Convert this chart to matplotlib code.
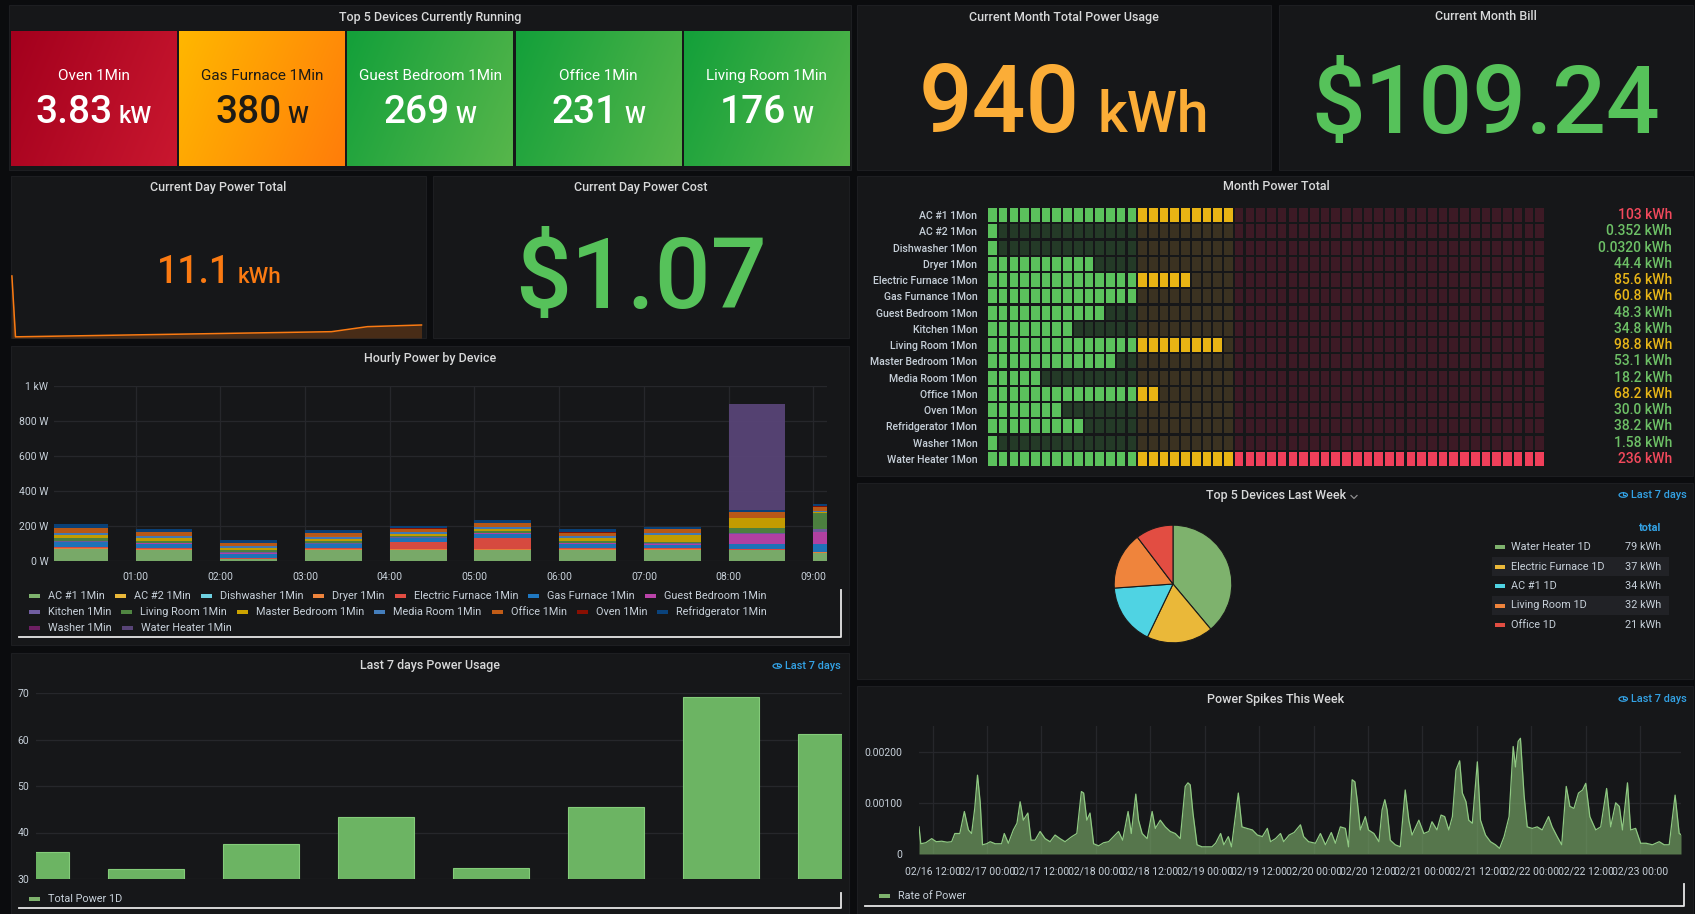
import matplotlib
matplotlib.use('Agg')
import matplotlib.pyplot as plt
from matplotlib.patches import Rectangle, Circle
from matplotlib.lines import Line2D
from matplotlib.colors import to_rgb
import matplotlib.transforms as mtransforms
import numpy as np
import math

plt.rcParams['font.family'] = ['Roboto', 'DejaVu Sans']

# ---------------- data ----------------
tile_names = ['Oven 1Min', 'Gas Furnace 1Min', 'Guest Bedroom 1Min', 'Office 1Min', 'Living Room 1Min']
tile_watts = [3830, 380, 269, 231, 176]

month_kwh = 940
month_bill = 109.24
day_kwh = 11.1
day_cost = 1.07

spark_hours = [0.0, 0.08, 7.1, 7.9, 9.1]
spark_kwh = [53.0, 1.0, 5.4, 9.7, 11.1]

hours = [0, 1, 2, 3, 4, 5, 6, 7, 8, 9]
devices = ['AC #1 1Min', 'AC #2 1Min', 'Dishwasher 1Min', 'Dryer 1Min', 'Electric Furnace 1Min',
           'Gas Furnace 1Min', 'Guest Bedroom 1Min', 'Kitchen 1Min', 'Living Room 1Min',
           'Master Bedroom 1Min', 'Media Room 1Min', 'Office 1Min', 'Oven 1Min',
           'Refridgerator 1Min', 'Washer 1Min', 'Water Heater 1Min']
ac1 = [67, 65, 10, 65, 65, 62, 65, 65, 62, 48]
ac2 = [0, 0, 0, 0, 0, 0, 0, 0, 0, 0]
dishwasher = [0, 0, 0, 0, 0, 0, 0, 0, 0, 0]
dryer = [6, 4, 3, 4, 4, 4, 4, 4, 3, 4]
electric_furnace = [6, 4, 4, 4, 38, 67, 4, 3, 3, 0]
gas_furnace = [28, 25, 25, 24, 22, 22, 25, 22, 28, 44]
guest_bedroom = [4, 3, 3, 3, 3, 3, 3, 3, 57, 67]
kitchen = [5, 4, 4, 4, 3, 3, 4, 4, 5, 19]
living_room = [13, 12, 12, 11, 10, 10, 12, 10, 28, 95]
master_bedroom = [17, 14, 12, 13, 12, 14, 13, 38, 57, 3]
media_room = [15, 12, 12, 12, 10, 10, 12, 10, 5, 3]
office = [25, 20, 18, 20, 18, 22, 20, 22, 30, 28]
oven = [2, 2, 2, 2, 2, 2, 2, 2, 2, 2]
refridgerator = [22, 16, 15, 13, 11, 13, 17, 13, 10, 15]
washer = [0, 0, 0, 0, 0, 0, 0, 0, 0, 0]
water_heater = [0, 0, 0, 0, 0, 0, 0, 0, 610, 0]
hourly_series = [ac1, ac2, dishwasher, dryer, electric_furnace, gas_furnace, guest_bedroom,
                 kitchen, living_room, master_bedroom, media_room, office, oven,
                 refridgerator, washer, water_heater]
hourly_yticks = [0, 200, 400, 600, 800, 1000]
hourly_ylabels = ['0 W', '200 W', '400 W', '600 W', '800 W', '1 kW']

week_days = [0, 1, 2, 3, 4, 5, 6, 7]
week_values = [35.7, 32.1, 37.5, 43.4, 32.4, 45.4, 69.1, 61.2]

month_devices = ['AC #1 1Mon', 'AC #2 1Mon', 'Dishwasher 1Mon', 'Dryer 1Mon', 'Electric Furnace 1Mon',
                 'Gas Furnance 1Mon', 'Guest Bedroom 1Mon', 'Kitchen 1Mon', 'Living Room 1Mon',
                 'Master Bedroom 1Mon', 'Media Room 1Mon', 'Office 1Mon', 'Oven 1Mon',
                 'Refridgerator 1Mon', 'Washer 1Mon', 'Water Heater 1Mon']
month_values = [103, 0.352, 0.0320, 44.4, 85.6, 60.8, 48.3, 34.8, 98.8, 53.1, 18.2, 68.2, 30.0, 38.2, 1.58, 236]
month_labels = ['103 kWh', '0.352 kWh', '0.0320 kWh', '44.4 kWh', '85.6 kWh', '60.8 kWh', '48.3 kWh',
                '34.8 kWh', '98.8 kWh', '53.1 kWh', '18.2 kWh', '68.2 kWh', '30.0 kWh', '38.2 kWh',
                '1.58 kWh', '236 kWh']
month_thresholds = [60, 100]

pie_labels = ['Water Heater 1D', 'Electric Furnace 1D', 'AC #1 1D', 'Living Room 1D', 'Office 1D']
pie_values = [79, 37, 34, 32, 21]

spike_hours = [-3.0, -2.6, -1.5, -0.2, 0.8, 2.0, 3.2, 4.2, 4.9, 6.0, 7.0, 7.9, 8.6, 9.3, 9.9, 10.5, 11.0,
               11.9, 12.7, 13.8, 15.2, 15.8, 16.7, 17.8, 18.6, 19.3, 20.0, 21.0, 21.7, 22.6, 23.7, 24.8,
               25.9, 27.0, 28.1, 29.2, 30.7, 31.8, 32.8, 33.3, 34.0, 34.7, 35.5, 36.6, 37.7, 38.8, 39.9,
               41.0, 41.9, 43.1, 43.8, 44.8, 45.4, 46.2, 47.3, 48.4, 49.1, 50.2, 51.3, 52.4, 53.5, 54.6,
               55.7, 56.3, 56.8, 57.4, 58.3, 59.4, 61.6, 62.4, 63.5, 64.2, 65.2, 65.9, 67.4, 68.2, 69.3,
               70.5, 71.6, 72.7, 73.8, 74.5, 75.6, 76.7, 77.4, 78.6, 79.7, 81.1, 81.8, 82.9, 84.4, 85.5,
               86.6, 87.9, 88.8, 89.9, 91.0, 91.7, 92.5, 93.1, 93.6, 94.3, 95.4, 96.1, 97.3, 98.4, 99.1,
               99.7, 100.2, 100.9, 102.0, 103.1, 104.2, 105.0, 105.7, 107.2, 108.3, 109.4, 110.1, 111.2,
               112.1, 112.9, 113.8, 114.6, 115.4, 116.2, 116.8, 117.6, 118.2, 119.0, 120.1, 120.8, 121.9,
               123.0, 124.1, 125.0, 126.0, 127.1, 128.0, 128.5, 129.1, 129.6, 130.4, 131.1, 132.2, 133.3,
               134.4, 135.8, 136.6, 137.7, 138.7, 139.7, 140.5, 141.4, 142.4, 143.3, 144.0, 144.9, 146.2,
               147.3, 148.6, 149.5, 150.6, 151.4, 152.1, 153.2, 153.9, 155.0, 156.1, 157.3, 158.7, 160.2,
               161.3, 162.4, 163.7, 164.6, 165.0]
spike_milli = [0.53, 0.20, 0.22, 0.30, 0.24, 0.25, 0.23, 0.24, 0.40, 0.40, 0.83, 0.47, 0.40, 0.90, 1.54, 1.00,
               0.18, 0.20, 0.24, 0.20, 0.20, 0.40, 0.21, 0.47, 0.60, 1.02, 0.66, 0.80, 0.27, 0.27, 0.44, 0.30,
               0.24, 0.37, 0.30, 0.24, 0.34, 0.40, 1.22, 1.19, 0.66, 0.80, 0.20, 0.16, 0.22, 0.24, 0.34,
               0.44, 0.27, 0.83, 0.40, 1.17, 0.66, 0.40, 0.30, 0.83, 0.50, 0.66, 0.53, 0.44, 0.40, 0.30,
               1.32, 1.39, 1.35, 0.80, 0.18, 0.14, 0.14, 0.21, 0.40, 0.18, 0.34, 0.14, 1.19, 0.53, 0.50,
               0.47, 0.37, 0.34, 0.50, 0.24, 0.30, 0.40, 0.24, 0.37, 0.42, 0.57, 0.34, 0.24, 0.21, 0.40,
               0.18, 0.42, 0.21, 0.53, 0.50, 0.14, 1.45, 1.41, 1.06, 0.47, 0.73, 0.47, 0.40, 0.24, 0.86,
               1.06, 0.86, 0.27, 0.18, 0.14, 1.25, 0.66, 0.37, 0.66, 0.40, 0.44, 0.63, 0.47,
               0.76, 0.73, 0.47, 0.73, 1.64, 1.82, 1.19, 1.02, 0.66, 0.60, 1.80, 0.66, 0.37,
               0.24, 0.18, 0.11, 0.34, 0.73, 2.10, 1.70, 2.20, 2.26, 1.15, 0.53, 0.50, 0.53,
               0.47, 0.73, 0.53, 0.34, 0.18, 1.32, 0.93, 0.89, 1.19, 1.25, 1.38, 0.73, 0.47,
               0.53, 1.28, 0.53, 1.00, 0.93, 0.47, 1.39, 0.47, 0.50, 0.21, 0.21, 0.18, 0.24,
               0.18, 0.18, 1.15, 0.40, 0.38]

# ---------------- style ----------------
W, H = 1695, 914
BG = '#0b0c0e'
PANEL = '#161719'
TITLE = '#d8d9da'
TICK = '#c7d0d9'
GRID = '#26272b'
LINK = '#33a2e5'
PALETTE = ['#7EB26D', '#EAB839', '#6ED0E0', '#EF843C', '#E24D42', '#1F78C1', '#BA43A9', '#705DA0',
           '#508642', '#CCA300', '#447EBC', '#C15C17', '#890F02', '#0A437C', '#6D1F62', '#584477']
BIGW = 'medium'

fig = plt.figure(figsize=(W / 100, H / 100), dpi=100, facecolor=BG)
R = fig.canvas.get_renderer()


def rect_fig(x0, y0, x1, y1, **kw):
    r = Rectangle((x0 / W, 1 - y1 / H), (x1 - x0) / W, (y1 - y0) / H, transform=fig.transFigure, **kw)
    fig.add_artist(r)
    return r


def axes_px(x0, y0, x1, y1, zorder=1):
    ax = fig.add_axes([x0 / W, 1 - y1 / H, (x1 - x0) / W, (y1 - y0) / H], zorder=zorder)
    ax.set_facecolor('none')
    return ax


def ftext(x, y, s, **kw):
    kw.setdefault('zorder', 6)
    return fig.text(x / W, 1 - y / H, s, **kw)


def fline(xs, ys, **kw):
    fig.add_artist(Line2D([x / W for x in xs], [1 - y / H for y in ys], transform=fig.transFigure,
                          zorder=6, **kw))


def title(cx, y, s):
    ftext(cx, y, s, color=TITLE, fontsize=9, fontweight='medium', ha='center', va='center')


def value_text(cx, base_y, num, unit, nsize, usize, color, gap):
    t1 = ftext(0, 0, num, fontsize=nsize, color=color, va='baseline', ha='left', fontweight=BIGW)
    t2 = ftext(0, 0, unit, fontsize=usize, color=color, va='baseline', ha='left', fontweight=BIGW)
    w1 = t1.get_window_extent(R).width
    w2 = t2.get_window_extent(R).width
    x0 = cx - (w1 + gap + w2) / 2
    t1.set_position((x0 / W, 1 - base_y / H))
    t2.set_position(((x0 + w1 + gap) / W, 1 - base_y / H))


def link_text(x_right, y, s):
    t = ftext(x_right, y, s, color=LINK, fontsize=7.8, fontweight='medium', ha='right', va='center')
    w = t.get_window_extent(R).width
    cx = x_right - w - 8
    fig.add_artist(Circle((cx / W, 1 - y / H), 4.2 / W, transform=fig.transFigure, fill=False,
                          edgecolor=LINK, lw=0.9, zorder=6))
    fline([cx, cx, cx + 2], [y - 2.5, y, y], color=LINK, lw=0.8)


def legend_item(x, y, name, color, fs=7.8):
    rect_fig(x, y - 2, x + 11, y + 2, facecolor=color, edgecolor='none', zorder=6)
    t = ftext(x + 19, y, name, color=TICK, fontsize=fs, ha='left', va='center')
    return x + 19 + t.get_window_extent(R).width + 10


def frame_line(x0, x1, y_bottom, y_top_right):
    fline([x0, x1, x1], [y_bottom, y_bottom, y_top_right], color='#e6e6e6', lw=1.3)


# ---------------- panels ----------------
panels = [(9, 5, 851, 170), (857, 5, 1271, 170), (1279, 5, 1693, 170), (11, 176, 426, 338),
          (433, 176, 849, 338), (11, 346, 849, 645), (11, 653, 849, 914), (857, 176, 1693, 476),
          (857, 483, 1693, 679), (857, 686, 1693, 914)]
for p in panels:
    rect_fig(*p, facecolor=PANEL, edgecolor='#1d1e21', lw=0.8, zorder=-5)

# ---------------- top 5 devices currently running ----------------
title(430, 17, 'Top 5 Devices Currently Running')


def tile_style(w):
    if w >= 1000:
        return ('#a3001d', '#c9172f'), '#ffffff'
    if w >= 300:
        return ('#ffb700', '#ff7d0a'), '#1d1b16'
    return ('#13a03a', '#57b64b'), '#ffffff'


n = len(tile_names)
tx0, tx1, tgap = 11, 849, 3
tw = (tx1 - tx0 - tgap * (n - 1)) / n
gx, gy = np.meshgrid(np.linspace(0, 1, 64), np.linspace(0, 1, 64))
tparam = np.clip(0.75 * gx + 0.25 * gy, 0, 1)
for i, (name, w) in enumerate(zip(tile_names, tile_watts)):
    x0 = tx0 + i * (tw + tgap)
    (c1, c2), tc = tile_style(w)
    a, b = np.array(to_rgb(c1)), np.array(to_rgb(c2))
    img = a * (1 - tparam)[..., None] + b * tparam[..., None]
    ax = axes_px(x0, 31, x0 + tw, 166, zorder=0)
    ax.imshow(img, extent=[0, 1, 0, 1], aspect='auto', interpolation='bilinear')
    ax.axis('off')
    cx = x0 + tw / 2
    ftext(cx, 76, name, color=tc, fontsize=11, ha='center', va='center')
    if w >= 1000:
        num, unit = f'{w / 1000:.2f}', 'kW'
    else:
        num, unit = f'{w:.0f}', 'W'
    value_text(cx, 123, num, unit, 28, 17, tc, 6)

# ---------------- month usage / bill ----------------
title(1064, 17, 'Current Month Total Power Usage')
value_text(1064, 132, f'{month_kwh}', 'kWh', 68, 41, '#FBAD37', 18)
title(1486, 17, 'Current Month Bill')
ftext(1486, 133, f'${month_bill:.2f}', color='#56C25A', fontsize=68, ha='center', va='baseline',
      fontweight=BIGW)

# ---------------- current day total ----------------
title(218, 187, 'Current Day Power Total')
axs = axes_px(11, 268, 426, 338, zorder=0)
axs.plot(spark_hours, spark_kwh, color='#FA7A12', lw=1.1)
axs.fill_between(spark_hours, spark_kwh, 0, color='#FA7A12', alpha=0.22, lw=0)
axs.set_xlim(-0.02, 9.2)
axs.set_ylim(0, 59.8)
axs.axis('off')
value_text(219, 283, f'{day_kwh}', 'kWh', 27, 16, '#FA7A12', 7)

title(641, 187, 'Current Day Power Cost')
ftext(641, 308, f'${day_cost:.2f}', color='#56C25A', fontsize=71, ha='center', va='baseline',
      fontweight=BIGW)

# ---------------- hourly power by device ----------------
title(430, 358, 'Hourly Power by Device')
axh = axes_px(54, 386, 827, 561)
bottom = np.zeros(len(hours))
for vals, c in zip(hourly_series, PALETTE):
    v = np.array(vals, dtype=float)
    axh.bar(hours, v, width=0.67, align='edge', bottom=bottom, color=c, alpha=0.95, lw=0, zorder=2)
    bottom += v
axh.set_xlim(0.038, 9.16)
axh.set_ylim(0, 1000)
axh.set_xticks(hours[1:])
axh.set_xticklabels([f'{h:02d}:00' for h in hours[1:]])
axh.set_yticks(hourly_yticks)
axh.set_yticklabels(hourly_ylabels)
axh.grid(color=GRID, lw=0.9, zorder=0)
axh.set_axisbelow(True)
for s in axh.spines.values():
    s.set_visible(False)
axh.tick_params(length=0, colors=TICK, labelsize=7.5)
axh.tick_params(axis='x', pad=8)
axh.tick_params(axis='y', pad=4)

legend_rows = [range(0, 7), range(7, 14), range(14, 16)]
for row, y in zip(legend_rows, [596, 612, 628]):
    x = 29
    for k in row:
        x = legend_item(x, y, devices[k], PALETTE[k])
frame_line(19, 841, 637, 590)

# ---------------- last 7 days ----------------
title(430, 665, 'Last 7 days Power Usage')
link_text(841, 666, 'Last 7 days')
axw = axes_px(36, 693, 842, 879)
axw.bar(week_days, week_values, width=0.66, align='edge', color='#6cb463', edgecolor='#84cc7a',
        lw=0.8, zorder=2)
axw.set_xlim(0.373, 7.382)
axw.set_ylim(30, 70)
axw.set_yticks([30, 40, 50, 60, 70])
axw.set_xticks([])
axw.grid(axis='y', color=GRID, lw=0.9, zorder=0)
axw.set_axisbelow(True)
for s in axw.spines.values():
    s.set_visible(False)
axw.tick_params(length=0, colors=TICK, labelsize=7.5, pad=5)
legend_item(29, 899, 'Total Power 1D', '#7EB26D')
frame_line(19, 841, 908, 893)

# ---------------- month power total (bar gauge) ----------------
title(1276, 187, 'Month Power Total')
NC = 52
axm = axes_px(987, 207, 1545, 467)
axm.set_xlim(0, NC)
axm.set_ylim(len(month_devices) - 0.5, -0.5)
vmax = max(month_values)
zone_on = ['#5BC15C', '#E8B414', '#F03F5A']
zone_off = ['#243a27', '#3b3221', '#3d1a25']
text_col = ['#6DC066', '#E8B617', '#F2495C']


def zone(v):
    z = 0
    for t in month_thresholds:
        if v >= t:
            z += 1
    return z


for r, v in enumerate(month_values):
    lit = math.ceil(v / vmax * NC)
    for i in range(NC):
        zc = zone(i * vmax / NC)
        col = zone_on[zc] if i < lit else zone_off[zc]
        axm.add_patch(Rectangle((i + 0.1, r - 0.43), 0.8, 0.86, facecolor=col, edgecolor='none'))
axm.set_yticks(range(len(month_devices)))
axm.set_yticklabels(month_devices, fontweight='medium')
axm.set_xticks([])
for s in axm.spines.values():
    s.set_visible(False)
axm.tick_params(length=0, colors=TICK, labelsize=7.6, pad=7)
trans = mtransforms.blended_transform_factory(axm.transAxes, axm.transData)
for r, (v, lab) in enumerate(zip(month_values, month_labels)):
    axm.text((1672 - 987) / (1545 - 987), r, lab, transform=trans, ha='right', va='center',
             fontsize=10, fontweight='medium', color=text_col[zone(v)])

# ---------------- top 5 devices last week (pie) ----------------
title(1276, 495, 'Top 5 Devices Last Week')
fline([1351, 1354, 1357], [495.5, 498.5, 495.5], color='#8e8e8e', lw=0.9)
link_text(1687, 495, 'Last 7 days')
axp = axes_px(1113, 524, 1233, 644)
pie_colors = ['#7EB26D', '#EAB839', '#4fd3e3', '#EF843C', '#E24D42']
axp.pie(pie_values, colors=pie_colors, startangle=90, counterclock=False, radius=1,
        wedgeprops=dict(edgecolor='#1a1a1a', linewidth=0.8))
axp.set_xlim(-1.02, 1.02)
axp.set_ylim(-1.02, 1.02)
ftext(1661, 528, 'total', color=LINK, fontsize=7.8, fontweight='bold', ha='right', va='center')
for k, (lab, v, c) in enumerate(zip(pie_labels, pie_values, pie_colors)):
    y = 547 + k * 19.5
    if k % 2 == 1:
        rect_fig(1492, y - 9.5, 1669, y + 9.5, facecolor='#212226', edgecolor='none', zorder=1)
    rect_fig(1495, y - 2, 1505, y + 2, facecolor=c, edgecolor='none', zorder=6)
    ftext(1511, y, lab, color=TICK, fontsize=7.8, ha='left', va='center')
    ftext(1661, y, f'{v} kWh', color=TICK, fontsize=7.8, ha='right', va='center')

# ---------------- power spikes ----------------
title(1276, 699, 'Power Spikes This Week')
link_text(1687, 699, 'Last 7 days')
axk = axes_px(919, 726, 1681, 854)
sv = np.array(spike_milli) / 1000.0
axk.fill_between(spike_hours, sv, 0, color='#7EB26D', alpha=0.62, lw=0, zorder=2)
axk.plot(spike_hours, sv, color='#8fc982', lw=0.9, zorder=3)
axk.set_xlim(-3.0, 165.0)
axk.set_ylim(0, 0.0025)
xt = list(range(0, 157, 12))
axk.set_xticks(xt)
axk.set_xticklabels([f'02/{16 + (12 + t) // 24:02d} {(12 + t) % 24:02d}:00' for t in xt])
axk.set_yticks([0, 0.001, 0.002])
axk.set_yticklabels(['0', '0.00100', '0.00200'])
axk.grid(color=GRID, lw=0.9, zorder=0)
axk.set_axisbelow(True)
for s in axk.spines.values():
    s.set_visible(False)
axk.tick_params(length=0, colors=TICK, labelsize=7.5)
axk.tick_params(axis='x', pad=9)
axk.tick_params(axis='y', pad=12)
legend_item(879, 896, 'Rate of Power', '#7EB26D')
frame_line(865, 1684, 906, 884)

fig.savefig('out.png', dpi=100, facecolor=BG)
